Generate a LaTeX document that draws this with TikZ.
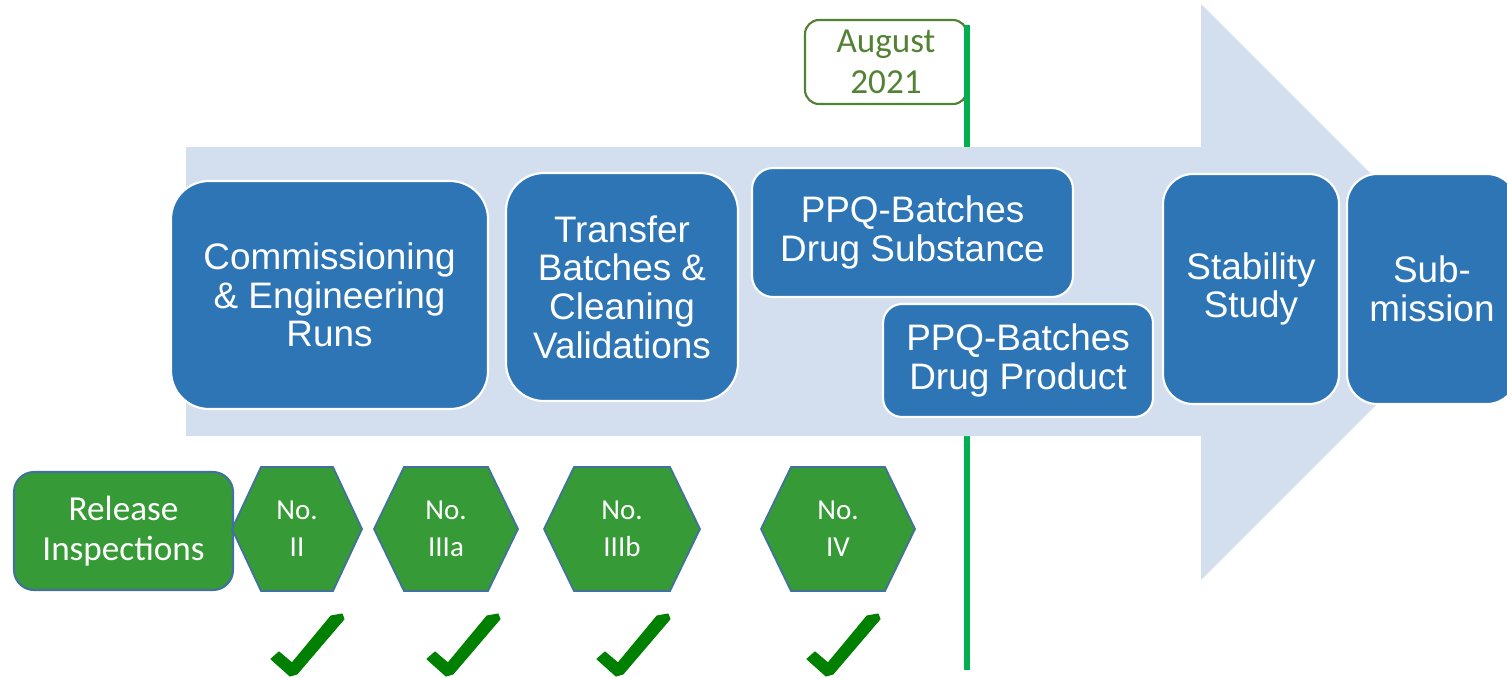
\documentclass[tikz,border=0pt]{standalone}
\usepackage{fontspec}
\setmainfont{Liberation Sans}
\newfontfamily\calibri{Carlito}
\usepackage{xcolor}
\usepackage{tikz}

\definecolor{arrowblue}{HTML}{D3DFEE}
\definecolor{stepblue}{HTML}{2E75B6}
\definecolor{badgegreen}{HTML}{369A37}
\definecolor{badgeline}{HTML}{41719C}
\definecolor{dateline}{HTML}{00B050}
\definecolor{dategreen}{HTML}{548235}
\definecolor{tickgreen}{HTML}{008000}

% hexagon badge: name, centre x, half width, half top edge, label
\newcommand{\hexbadge}[5]{
    \filldraw[badge] (#2-#3,529) -- (#2-#4,467) -- (#2+#4,467) -- (#2+#3,529)
        -- (#2+#4,591) -- (#2-#4,591) -- cycle;
    \node[badgetext] (#1) at (#2,529) {#5};
}
% check mark with its lower corner at (#1,#2)
\newcommand{\donetick}[2]{
    \filldraw[tickmark, shift={(#1,#2)}] (-22,-14) -- (-14,-21) -- (-1,-10) -- (38,-57)
        -- (49,-59) -- (51,-54) -- (4,1) -- (-3,3) -- cycle;
}

\begin{document}
\begin{tikzpicture}[x=0.02cm, y=-0.02cm,
        stepbox/.style={draw=white, line width=1.2pt, fill=stepblue, text=white,
            align=center, font=\fontsize{21}{22}\selectfont},
        releasebox/.style={draw=badgeline, line width=1.2pt, fill=badgegreen, text=white,
            align=center, font=\calibri\fontsize{20}{23}\selectfont},
        badge/.style={draw=badgeline, line width=1pt, fill=badgegreen},
        badgetext/.style={text=white, align=center, font=\calibri\fontsize{16.5}{21}\selectfont},
        datebox/.style={draw=dategreen, line width=1.2pt, fill=white, text=dategreen,
            rounded corners=0.28cm, align=center, font=\calibri\fontsize{20}{23}\selectfont},
        tickmark/.style={fill=tickgreen, draw=tickgreen, line width=0.6pt, line join=round}]
    \clip (0,0) rectangle (1507,677);

    % coordinates
    \coordinate (linetop) at (967,25);
    \coordinate (linebottom) at (967,670);

    % date marker
    \node[datebox, minimum width=3.24cm, minimum height=1.68cm] (august) at (886,62) {August\\2021};
    \draw[dateline, line width=3.4pt] (linetop) -- (linebottom);

    % big arrow
    \fill[arrowblue] (186,147) -- (1201,147) -- (1201,4) -- (1489,292) -- (1201,580)
        -- (1201,436) -- (186,436) -- cycle;

    % steps
    \node[stepbox, minimum width=6.34cm, minimum height=4.56cm, rounded corners=0.76cm]
        (commissioning) at (329.5,295) {Commissioning\\\& Engineering\\Runs};
    \node[stepbox, minimum width=4.64cm, minimum height=4.56cm, rounded corners=0.76cm]
        (transfer) at (622,287) {Transfer\\Batches \&\\Cleaning\\Validations};
    \node[stepbox, minimum width=6.42cm, minimum height=2.58cm, rounded corners=0.42cm]
        (substance) at (912.5,232.5) {PPQ-Batches\\Drug Substance};
    \node[stepbox, minimum width=5.40cm, minimum height=2.26cm, rounded corners=0.38cm]
        (product) at (1018,360.5) {PPQ-Batches\\Drug Product};
    \node[stepbox, minimum width=3.52cm, minimum height=4.60cm, rounded corners=0.6cm]
        (stability) at (1251,289) {Stability\\Study};
    \node[stepbox, minimum width=3.40cm, minimum height=4.60cm, rounded corners=0.6cm]
        (submission) at (1432,289) {Sub-\\mission};

    % inspections
    \node[releasebox, minimum width=4.38cm, minimum height=2.36cm, rounded corners=0.4cm]
        (release) at (123.5,531) {Release\\Inspections};
    \hexbadge{two}{297}{65}{36}{No.\\II}
    \hexbadge{threea}{446}{72}{42}{No.\\IIIa}
    \hexbadge{threeb}{622}{78}{48}{No.\\IIIb}
    \hexbadge{four}{838}{77}{47}{No.\\IV}

    % check marks
    \donetick{293}{673}
    \donetick{449}{673}
    \donetick{619}{673}
    \donetick{829}{673}

\end{tikzpicture}
\end{document}
